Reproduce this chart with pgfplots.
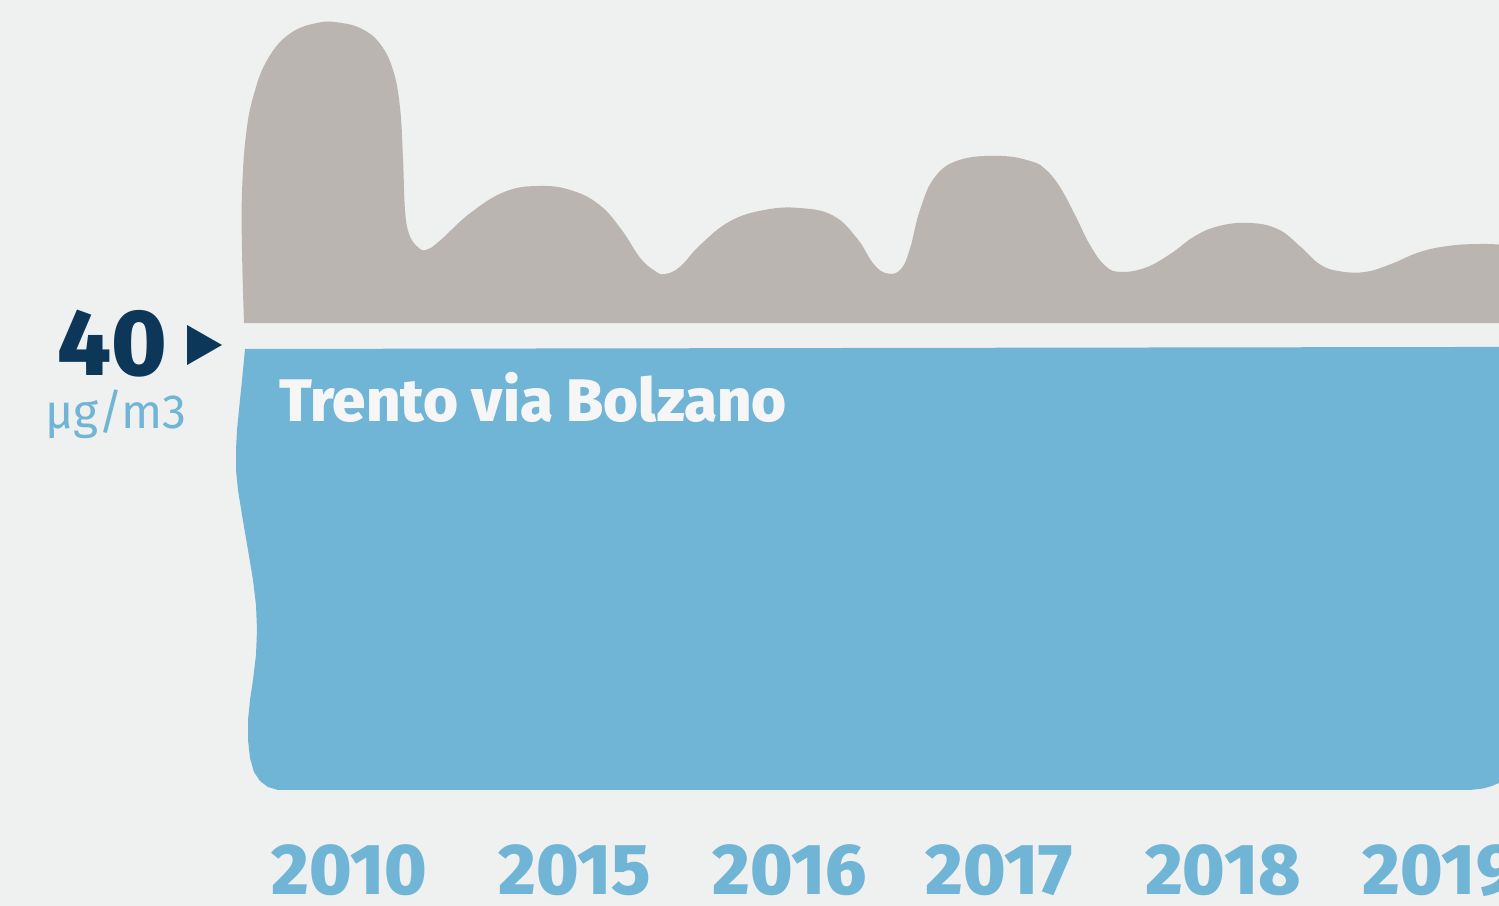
\documentclass[border=0pt]{standalone}
\usepackage{pgfplots}
\pgfplotsset{compat=1.18}
\usepackage{fontspec}
\setmainfont{Fira Sans}[BoldFont={Fira Sans ExtraBold}]
\definecolor{bgc}{RGB}{239,240,240}
\definecolor{grayc}{RGB}{187,181,177}
\definecolor{bluec}{RGB}{112,181,213}
\definecolor{navyc}{RGB}{13,55,88}
\definecolor{whitec}{RGB}{246,246,246}
\begin{document}
\begin{tikzpicture}
\begin{axis}[
  width=749.5pt, height=453pt, scale only axis,
  xmin=0, xmax=1499, ymin=-10.198, ymax=69.451,
  axis line style={draw=none}, major tick length=0pt,
  axis background/.style={fill=bgc},
  ytick=\empty,
  xtick={349.5,575,790,999,1223,1440},
  xticklabels={2010,2015,2016,2017,2018,2019},
  xticklabel style={anchor=base, yshift=5.5pt, text=bluec,
    font=\fontsize{36pt}{36pt}\selectfont\bfseries},
]
% gray: values above the 40 limit (upper edge of the area)
\addplot[fill=grayc, draw=none, smooth, tension=0.7] coordinates {
(244,41.05) (242,47.47) (242,52.5) (246,57.6) (254,61.2) (268,64.3)
(290,66.5) (318,67.45) (340,67.45) (362,66.9) (380,65.6) (393,63.3)
(400,60.0) (403,55.5) (405,51.0) (409,48.9) (417,47.8) (426,47.47)
(440,48.3) (470,50.7) (505,52.6) (540,53.10) (572,52.7) (600,51.4)
(622,49.2) (640,46.8) (655,45.63) (665,45.36) (680,46.0) (700,47.9)
(730,50.0) (765,51.0) (800,51.16) (833,50.5) (857,48.5) (874,46.2)
(888,45.4) (901,45.8) (910,47.6) (920,51.0) (935,53.9) (960,55.4)
(1000,55.74) (1030,55.3) (1045,54.6) (1060,53.0) (1075,50.55) (1090,47.91)
(1105,46.1) (1120,45.55) (1145,45.9) (1170,47.1) (1195,48.7) (1220,49.6)
(1250,49.85) (1278,49.3) (1300,47.8) (1320,46.2) (1340,45.6) (1365,45.54)
(1390,46.2) (1420,47.3) (1450,47.85) (1480,48.0) (1499,47.95)
} -- (axis cs:1499,41.05) -- cycle;
% blue: the part up to the limit
\addplot[fill=bluec, draw=none] coordinates {
(245,38.77) (1499,38.95) (1499,0.62) (1492,0.35) (1483,0.13) (1470,0)
(278,0) (268,0.26) (260,0.79) (254,1.58) (250,2.81) (248,4.40) (248,6.15)
(250,7.91) (253,9.67) (256,11.87) (257,14.07) (256,16.26) (253,18.46)
(248,21.10) (242,24.18) (238,26.37) (236,28.13) (236,29.89) (237,31.65)
(240,34.29) (243,36.92)
} -- cycle;
\fill[navyc] (axis cs:187,40.88) -- (axis cs:187,37.36) -- (axis cs:222,39.12) -- cycle;
\node[anchor=base, inner sep=0pt, text=navyc, font=\fontsize{47pt}{47pt}\selectfont\bfseries] at (axis cs:112,36.48) {40};
\node[anchor=base, inner sep=0pt, text=bluec, font=\fontsize{24pt}{24pt}\selectfont] at (axis cs:116,31.82) {µg/m3};
\node[anchor=base west, inner sep=0pt, text=whitec, font=\fontsize{30pt}{30pt}\selectfont\bfseries] at (axis cs:279,32.42) {Trento via Bolzano};
\end{axis}
\pgfresetboundingbox
\useasboundingbox (current axis.south west) rectangle (current axis.north east);
\end{tikzpicture}
\end{document}
